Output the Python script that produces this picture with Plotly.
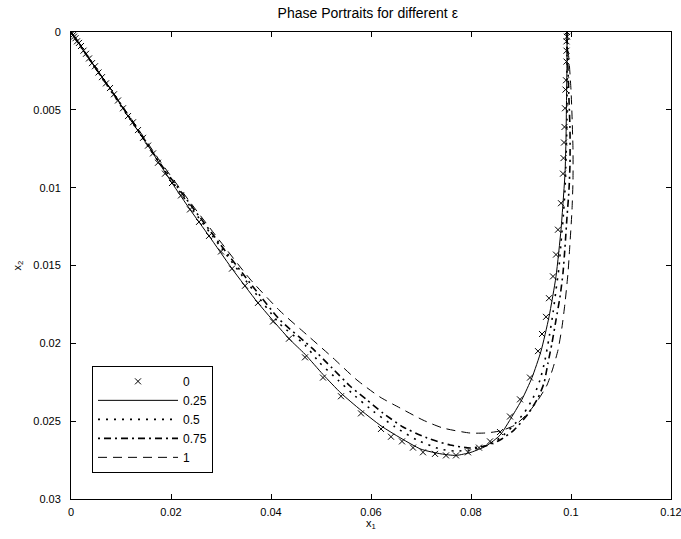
import plotly.graph_objects as go

# eps = 0 (x markers)
x_e0 = [0, 0.0002, 0.0004, 0.0006, 0.0009, 0.0012, 0.0016, 0.0020, 0.0025, 0.0030,
        0.0036, 0.0042, 0.0048, 0.0055, 0.0062, 0.0070, 0.0078, 0.0086, 0.0094, 0.0104,
        0.0114, 0.0124, 0.0134, 0.0144, 0.0154, 0.0164, 0.0174, 0.0188, 0.0202, 0.0220,
        0.0238, 0.0256, 0.0276, 0.0300, 0.0322, 0.0348, 0.0374, 0.0404, 0.0436, 0.0468,
        0.0504, 0.0540, 0.0580, 0.0620, 0.0640, 0.0662, 0.0684, 0.0704, 0.0728, 0.0750,
        0.0770, 0.0794, 0.0816, 0.0838, 0.0858, 0.0878, 0.0898, 0.0918, 0.0934, 0.0942,
        0.0950, 0.0956, 0.0964, 0.0970, 0.0974, 0.0980, 0.0984, 0.0985, 0.0986, 0.0987,
        0.0988, 0.0989, 0.0990, 0.0991, 0.0991, 0.0991, 0.0992, 0.0992]
y_e0 = [0, 0.0001, 0.0002, 0.0003, 0.0004, 0.0006, 0.0007, 0.0009, 0.0012, 0.0014,
        0.0017, 0.0020, 0.0022, 0.0026, 0.0029, 0.0033, 0.0036, 0.0040, 0.0044, 0.0049,
        0.0054, 0.0058, 0.0063, 0.0068, 0.0073, 0.0078, 0.0084, 0.0091, 0.0097, 0.0105,
        0.0114, 0.0122, 0.0131, 0.0141, 0.0152, 0.0163, 0.0174, 0.0186, 0.0197, 0.0209,
        0.0222, 0.0234, 0.0245, 0.0255, 0.0260, 0.0263, 0.0267, 0.0270, 0.0271, 0.0272,
        0.0272, 0.0270, 0.0267, 0.0263, 0.0257, 0.0247, 0.0236, 0.0222, 0.0205, 0.0194,
        0.0183, 0.0171, 0.0157, 0.0143, 0.0127, 0.0110, 0.0091, 0.0081, 0.0071, 0.0061,
        0.0049, 0.0037, 0.0031, 0.0019, 0.0012, 0.0006, 0.0003, 0.0000]

# eps = 0.25 (solid)
x_e25 = [0, 0.0038, 0.0078, 0.0114, 0.0154, 0.0202, 0.0238, 0.0276, 0.0322, 0.0374,
         0.0436, 0.0468, 0.0504, 0.0540, 0.0580, 0.0620, 0.0660, 0.0700, 0.0740, 0.0770,
         0.0800, 0.0830, 0.0858, 0.0882, 0.0902, 0.0922, 0.0940, 0.0956, 0.0970, 0.0980,
         0.0984, 0.0988, 0.0990, 0.0991, 0.0992, 0.0992]
y_e25 = [0, 0.0018, 0.0036, 0.0054, 0.0073, 0.0097, 0.0114, 0.0131, 0.0152, 0.0174,
         0.0197, 0.0207, 0.0220, 0.0232, 0.0243, 0.0253, 0.0261, 0.0268, 0.0271, 0.0272,
         0.0270, 0.0266, 0.0259, 0.0247, 0.0236, 0.0222, 0.0205, 0.0183, 0.0157, 0.0127,
         0.0110, 0.0091, 0.0069, 0.0044, 0.0018, 0.0000]

# eps = 0.5 (dotted)
x_e50 = [0, 0.0058, 0.0118, 0.0178, 0.0238, 0.0298, 0.0358, 0.0418, 0.0468, 0.0496,
         0.0534, 0.0568, 0.0604, 0.0648, 0.0692, 0.0738, 0.0768, 0.0798, 0.0828, 0.0858,
         0.0882, 0.0906, 0.0924, 0.0938, 0.0948, 0.0956, 0.0964, 0.0970, 0.0976, 0.0980,
         0.0984, 0.0988, 0.0990, 0.0992, 0.0992, 0.0992, 0.0992]
y_e50 = [0, 0.00276, 0.00559, 0.00848, 0.01118, 0.01375, 0.01632, 0.01876, 0.02011, 0.0212,
         0.02236, 0.02338, 0.02435, 0.02537, 0.02621, 0.02679, 0.02692, 0.02685, 0.0266, 0.02608,
         0.02537, 0.02448, 0.02351, 0.02236, 0.02107, 0.01966, 0.01805, 0.01657, 0.0151, 0.01355,
         0.01208, 0.01015, 0.00822, 0.00565, 0.00308, 0.00116, 0.0]

# eps = 0.75 (dash-dot)
x_e75 = [0, 0.0058, 0.0118, 0.0178, 0.0238, 0.0298, 0.0358, 0.0418, 0.0484, 0.0522,
         0.0558, 0.0592, 0.0624, 0.0664, 0.0712, 0.0758, 0.0798, 0.0828, 0.0858, 0.0886,
         0.0914, 0.0934, 0.0946, 0.0954, 0.0962, 0.0970, 0.0978, 0.0984, 0.0988, 0.0992,
         0.0996, 0.0998, 0.0998, 0.0996, 0.0994, 0.0992, 0.0992]
y_e75 = [0, 0.00273, 0.00552, 0.00842, 0.01105, 0.01362, 0.01612, 0.0185, 0.02036, 0.02158,
         0.02274, 0.02364, 0.02448, 0.02537, 0.02608, 0.02653, 0.02672, 0.0266, 0.02621, 0.02557,
         0.02454, 0.02351, 0.02255, 0.02126, 0.01998, 0.0185, 0.01702, 0.01548, 0.01381, 0.01188,
         0.01015, 0.00842, 0.0063, 0.00437, 0.00244, 0.00084, 0.0]

# eps = 1 (dashed)
x_e100 = [0, 0.0058, 0.0118, 0.0178, 0.0238, 0.0298, 0.0358, 0.0418, 0.0472, 0.0522,
          0.0572, 0.0618, 0.0658, 0.0704, 0.0744, 0.0798, 0.0828, 0.0858, 0.0888, 0.0914,
          0.0934, 0.0952, 0.0964, 0.0974, 0.0982, 0.0988, 0.0994, 0.0998, 0.1002, 0.1004,
          0.1004, 0.1002, 0.1000, 0.0996, 0.0992, 0.0992]
y_e100 = [0, 0.0027, 0.00546, 0.00829, 0.01092, 0.01343, 0.01587, 0.01792, 0.01946, 0.02088,
          0.02236, 0.02345, 0.02415, 0.02493, 0.02544, 0.02576, 0.02576, 0.02563, 0.02525, 0.02448,
          0.02364, 0.02268, 0.02158, 0.02043, 0.01895, 0.01741, 0.01548, 0.01355, 0.01143, 0.00951,
          0.00758, 0.00533, 0.00373, 0.0018, 0.00051, 0.0]

x_ticks = [0, 0.02, 0.04, 0.06, 0.08, 0.1, 0.12]
y_ticks = [0, 0.005, 0.01, 0.015, 0.02, 0.025, 0.03]
x_ticklabels = ["0", "0.02", "0.04", "0.06", "0.08", "0.1", "0.12"]
y_ticklabels = ["0", "0.005", "0.01", "0.015", "0.02", "0.025", "0.03"]

FONT = "Liberation Sans, Arial, sans-serif"

fig = go.Figure()
fig.add_trace(go.Scatter(x=x_e0, y=y_e0, mode="markers", name="0",
                         marker=dict(symbol="x-thin-open", size=6, color="black",
                                     line=dict(width=1, color="black"))))
fig.add_trace(go.Scatter(x=x_e25, y=y_e25, mode="lines", name="0.25",
                         line=dict(color="black", width=1, shape="spline", smoothing=0.6)))
fig.add_trace(go.Scatter(x=x_e50, y=y_e50, mode="lines", name="0.5",
                         line=dict(color="black", width=1.6, dash="2px,6px", shape="spline", smoothing=0.6)))
fig.add_trace(go.Scatter(x=x_e75, y=y_e75, mode="lines", name="0.75",
                         line=dict(color="black", width=1.6, dash="2px,4px,7px,4px", shape="spline", smoothing=0.6)))
fig.add_trace(go.Scatter(x=x_e100, y=y_e100, mode="lines", name="1",
                         line=dict(color="black", width=1, dash="9px,6px", shape="spline", smoothing=0.6)))

axis_common = dict(showline=True, linecolor="black", linewidth=1, mirror="ticks",
                   ticks="inside", ticklen=5, tickcolor="black", showgrid=False,
                   zeroline=False, automargin=False, ticklabeloverflow="allow",
                   tickfont=dict(family=FONT, size=11, color="black"))

fig.update_xaxes(range=[0, 0.12], tickvals=x_ticks, ticktext=x_ticklabels,
                 ticklabelstandoff=3, **axis_common)
fig.update_yaxes(range=[0.03, 0], tickvals=y_ticks, ticktext=y_ticklabels,
                 ticklabelstandoff=7, **axis_common)

fig.update_layout(
    width=681, height=539,
    margin=dict(l=71, r=10, t=32, b=40),
    paper_bgcolor="white", plot_bgcolor="white",
    title=dict(text="Phase Portraits for different ε", x=0.54, xanchor="center",
               y=0.975, yanchor="middle", font=dict(family=FONT, size=14, color="black")),
    legend=dict(x=0.035, y=0.056, xanchor="left", yanchor="bottom",
                bordercolor="black", borderwidth=1, bgcolor="white",
                font=dict(family=FONT, size=12, color="black"),
                itemwidth=80, tracegroupgap=0),
    showlegend=True,
    annotations=[
        dict(text="x<sub>1</sub>", xref="paper", yref="paper", x=0.5, y=-0.035,
             xanchor="center", yanchor="top", showarrow=False,
             font=dict(family=FONT, size=11, color="black")),
        dict(text="x<sub>2</sub>", xref="paper", yref="paper", x=-0.09, y=0.5,
             xanchor="center", yanchor="middle", textangle=-90, showarrow=False,
             font=dict(family=FONT, size=11, color="black")),
    ],
)

fig.write_html("out.html", config={"displayModeBar": False},
               post_script="document.body.style.margin='0';document.body.style.overflow='hidden';")
